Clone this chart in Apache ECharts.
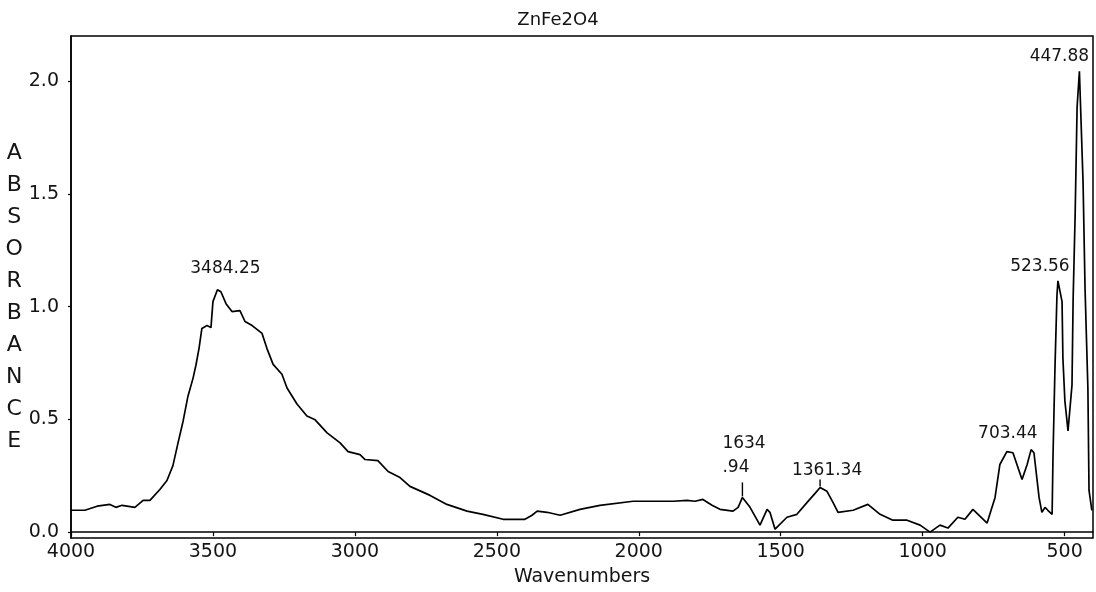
<!DOCTYPE html>
<html>
<head>
<meta charset="utf-8">
<title>ZnFe2O4 FTIR</title>
<script src="https://cdn.jsdelivr.net/npm/echarts@6/dist/echarts.min.js"></script>
<style>
  html, body { margin: 0; padding: 0; background: #fff; }
  #chart { width: 1096px; height: 592px; }
</style>
</head>
<body>
<div id="chart"></div>
<script>
// FTIR absorbance spectrum of ZnFe2O4 (wavenumbers in cm-1)
const wavenumber = [
  4000, 3951, 3908, 3863, 3842, 3820, 3775, 3746, 3722, 3687, 3662, 3641, 3623, 3605, 3588, 3570,
  3560, 3549, 3539, 3521, 3507, 3500, 3484.25, 3472, 3454, 3433, 3405, 3387, 3362, 3327, 3310, 3288,
  3257, 3239, 3204, 3169, 3140, 3098, 3052, 3024, 2982, 2964, 2919, 2883, 2841, 2806, 2735, 2676,
  2605, 2549, 2478, 2401, 2376, 2358, 2323, 2277, 2207, 2137, 2020, 1879, 1830, 1802, 1774, 1742,
  1714, 1668, 1650, 1634.94, 1608, 1573, 1548, 1538, 1520, 1478, 1443, 1407, 1379, 1361.34, 1337, 1316,
  1298, 1245, 1193, 1150, 1105, 1055, 1009, 974, 939, 911, 876, 851, 823, 773, 745, 728,
  703.44, 682, 650, 632, 618, 608, 590, 580, 569, 559, 544, 541, 534, 527, 523.56, 509,
  506, 499, 488, 474, 470, 463, 456, 447.88, 435, 428, 418, 414, 404
];
const absorbance = [
  0.097, 0.097, 0.115, 0.123, 0.110, 0.119, 0.110, 0.141, 0.141, 0.189, 0.229, 0.295, 0.396, 0.493, 0.603, 0.683,
  0.740, 0.815, 0.903, 0.916, 0.907, 1.022, 1.075, 1.066, 1.013, 0.978, 0.982, 0.934, 0.916, 0.881, 0.815, 0.744,
  0.700, 0.639, 0.568, 0.515, 0.498, 0.440, 0.396, 0.357, 0.344, 0.322, 0.317, 0.269, 0.242, 0.203, 0.163, 0.123,
  0.093, 0.079, 0.057, 0.057, 0.075, 0.093, 0.088, 0.075, 0.101, 0.119, 0.137, 0.137, 0.141, 0.137, 0.145, 0.119,
  0.101, 0.093, 0.110, 0.154, 0.110, 0.031, 0.101, 0.088, 0.013, 0.066, 0.079, 0.132, 0.172, 0.198, 0.181, 0.132,
  0.088, 0.097, 0.123, 0.079, 0.053, 0.053, 0.031, 0.000, 0.031, 0.018, 0.066, 0.057, 0.101, 0.040, 0.154, 0.300,
  0.357, 0.352, 0.233, 0.300, 0.366, 0.352, 0.154, 0.088, 0.110, 0.097, 0.079, 0.330, 0.727, 1.048, 1.114, 1.022,
  0.771, 0.581, 0.449, 0.652, 1.035, 1.401, 1.885, 2.044, 1.551, 1.079, 0.639, 0.185, 0.097
];

// Annotated peak positions and the text printed above them
const peakWavenumbers = [3484.25, 1634.94, 1361.34, 703.44, 523.56, 447.88];
const peakTexts = ['3484.25', '1634\n.94', '1361.34', '703.44', '523.56', '447.88'];
// Peaks that carry a short leader line under their label
const leaderPeaks = [1634.94, 1361.34];

const xTickValues = [4000, 3500, 3000, 2500, 2000, 1500, 1000, 500];
const yTickValues = [0, 0.5, 1.0, 1.5, 2.0];

const titleText = 'ZnFe2O4';
const xAxisTitle = 'Wavenumbers';
const yAxisTitle = 'ABSORBANCE';

// ---- option building ----
const spectrum = wavenumber.map((w, i) => [w, absorbance[i]]);
const absAt = w => absorbance[wavenumber.indexOf(w)];

const textColor = '#141414';
const fontFamily = '"DejaVu Sans", Verdana, sans-serif';

// label placement (pixel offsets from the peak point)
const labelPlacement = {
  '3484.25': { offset: [8, -21], align: 'center' },
  '1634\n.94': { offset: [-20, -42], align: 'left' },
  '1361.34': { offset: [7, -17], align: 'center' },
  '703.44': { offset: [1, -18], align: 'center' },
  '523.56': { offset: [-18, -14], align: 'center' },
  '447.88': { offset: [-20, -15], align: 'center' }
};
const leaderSize = { 1634.94: 14, 1361.34: 7 };

const peakData = peakWavenumbers.map((w, i) => {
  const p = labelPlacement[peakTexts[i]];
  return {
    value: [w, absAt(w)],
    label: {
      show: true,
      position: 'inside',
      formatter: peakTexts[i],
      offset: p.offset,
      align: p.align,
      verticalAlign: 'middle',
      color: textColor,
      opacity: 1,
      textBorderWidth: 0
    }
  };
});

const leaderData = leaderPeaks.map(w => ({
  value: [w, absAt(w)],
  symbolSize: [1.4, leaderSize[w]],
  symbolOffset: [0, -(leaderSize[w] / 2 + 1)]
}));

// vertical letter stack for the y-axis title, with a spacer line on top
const yNameText = '{gap|}\n' + yAxisTitle.split('').join('\n');

const option = {
  animation: false,
  backgroundColor: '#ffffff',
  title: {
    text: titleText,
    left: 553,
    textAlign: 'center',
    top: 6,
    textStyle: { fontFamily, fontSize: 18, fontWeight: 'normal', color: textColor }
  },
  grid: {
    left: 71, right: 3, top: 36, bottom: 51,
    show: true, borderColor: '#000', borderWidth: 1.5, backgroundColor: 'transparent'
  },
  xAxis: {
    type: 'value',
    inverse: true,
    min: 400,
    max: 4000,
    splitLine: { show: false },
    axisLine: { show: true, lineStyle: { color: '#000', width: 1.5 } },
    axisTick: { show: true, length: 4, customValues: xTickValues, lineStyle: { color: '#000', width: 1.2 } },
    axisLabel: {
      customValues: xTickValues, margin: 5,
      formatter: v => String(v),
      fontFamily, fontSize: 19, color: textColor
    },
    name: xAxisTitle,
    nameLocation: 'middle',
    nameGap: 30,
    nameTextStyle: { fontFamily, fontSize: 19, color: textColor }
  },
  yAxis: {
    type: 'value',
    min: -0.026,
    max: 2.2,
    splitLine: { show: false },
    axisLine: { show: true, lineStyle: { color: '#000', width: 1.5 } },
    axisTick: { show: true, length: 3, customValues: yTickValues, lineStyle: { color: '#000', width: 1.2 } },
    axisLabel: {
      customValues: yTickValues, margin: 12,
      formatter: v => v.toFixed(1),
      fontFamily, fontSize: 19, color: textColor
    },
    name: yNameText,
    nameLocation: 'middle',
    nameRotate: 0,
    nameGap: 52,
    nameTextStyle: {
      fontFamily, fontSize: 22, color: textColor,
      lineHeight: 32, align: 'center', verticalAlign: 'middle',
      rich: { gap: { height: 20, lineHeight: 20, fontSize: 4 } }
    }
  },
  series: [
    {
      name: 'ZnFe2O4',
      type: 'line',
      data: spectrum,
      showSymbol: false,
      lineStyle: { color: '#000', width: 1.7 },
      silent: true,
      z: 3
    },
    {
      name: 'leaders',
      type: 'scatter',
      data: leaderData,
      symbol: 'rect',
      itemStyle: { color: '#000', opacity: 1 },
      silent: true,
      z: 4
    },
    {
      name: 'peaks',
      type: 'scatter',
      data: peakData,
      symbol: 'circle',
      symbolSize: 1,
      itemStyle: { color: 'rgba(0,0,0,0)', opacity: 1 },
      label: { fontFamily, fontSize: 17, lineHeight: 24, color: textColor },
      silent: true,
      z: 5
    }
  ]
};

const chart = echarts.init(document.getElementById('chart'), null, { renderer: 'canvas' });
chart.setOption(option);
</script>
</body>
</html>
